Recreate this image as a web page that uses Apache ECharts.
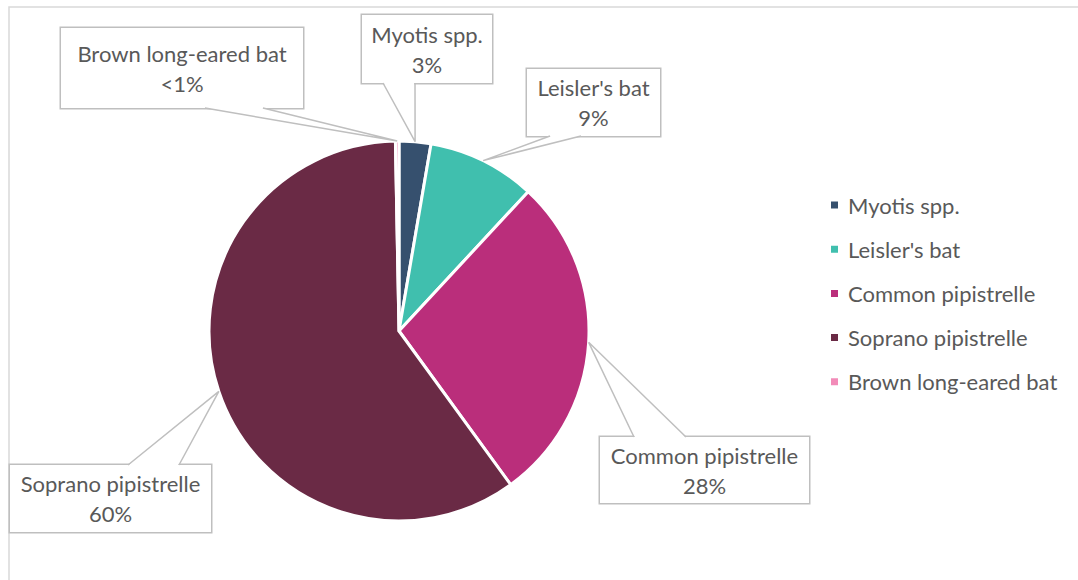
<!DOCTYPE html>
<html>
<head>
<meta charset="utf-8">
<script src="https://cdn.jsdelivr.net/npm/echarts@6/dist/echarts.min.js"></script>
<style>
  html, body { margin: 0; padding: 0; background: #fff; }
  #chart { width: 1078px; height: 580px; }
</style>
</head>
<body>
<div id="chart"></div>
<script>
// Bat species recorded, share of passes (%)
const categories = ['Myotis spp.', "Leisler's bat", 'Common pipistrelle', 'Soprano pipistrelle', 'Brown long-eared bat'];
const shares = [2.7, 9.2, 28.1, 59.7, 0.3];
const colors = ['#36506e', '#40bfae', '#ba2e7b', '#6a2a45', '#f28bb8'];

// Callout boxes: centre, size, which edge carries the pointer and where the pointer base sits
const callouts = [
  { cx: 427,   cy: 49,    w: 130, h: 68, edge: 'bottom', base: [383, 415] },
  { cx: 593.5, cy: 102.5, w: 133, h: 67, edge: 'bottom', base: [550, 581] },
  { cx: 704.5, cy: 470,   w: 209, h: 66, edge: 'top',    base: [634, 686] },
  { cx: 110.5, cy: 498.5, w: 201, h: 67, edge: 'top',    base: [128, 179] },
  { cx: 182,   cy: 68,    w: 242, h: 80, edge: 'bottom', base: [205, 263] }
];

const FONT = 'Lato';
const FONT_SIZE = 22;
const TEXT = '#595959';
const LINE = '#bfbfbf';
const LINE_H = 30;

const total = shares.reduce((a, b) => a + b, 0);
function pctText(v) {
  const p = v / total * 100;
  return p < 1 ? '<1%' : Math.round(p) + '%';
}

const chart = echarts.init(document.getElementById('chart'), null, { renderer: 'svg' });

const seriesData = categories.map((name, i) => ({
  name,
  value: shares[i],
  itemStyle: { color: colors[i] },
  label: {
    width: callouts[i].w,
    padding: [(callouts[i].h - 2 * LINE_H) / 2, 0]
  }
}));

const frame = {
  type: 'rect',
  silent: true,
  shape: { x: 9, y: 7, width: 1200, height: 700 },
  style: { fill: 'none', stroke: '#d9d9d9', lineWidth: 1.5 },
  z: -1
};

chart.setOption({
  animation: false,
  backgroundColor: '#fff',
  legend: {
    orient: 'vertical',
    left: 824,
    top: 188,
    icon: 'rect',
    itemWidth: 9,
    itemHeight: 9,
    itemGap: 20.2,
    data: categories,
    textStyle: { fontFamily: FONT, fontSize: FONT_SIZE, color: TEXT, lineHeight: 24, padding: [0, 0, 0, 4] }
  },
  series: [{
    type: 'pie',
    center: [399, 331],
    radius: 190,
    startAngle: 90,
    clockwise: true,
    avoidLabelOverlap: false,
    minShowLabelAngle: 0,
    itemStyle: { borderColor: '#fff', borderWidth: 3 },
    emphasis: { disabled: true },
    label: {
      show: true,
      formatter: p => p.name + '\n' + pctText(p.value),
      fontFamily: FONT,
      fontSize: FONT_SIZE,
      lineHeight: LINE_H,
      color: TEXT,
      align: 'center',
      backgroundColor: '#fff',
      borderColor: LINE,
      borderWidth: 1.5
    },
    labelLine: { show: false },
    labelLayout: p => ({
      x: callouts[p.dataIndex].cx,
      y: callouts[p.dataIndex].cy,
      align: 'center',
      verticalAlign: 'middle'
    }),
    data: seriesData
  }],
  graphic: [frame]
});

// Pointer wedges from each callout box to the middle of its slice's rim
function slicePoint(i) {
  const data = chart.getModel().getSeriesByIndex(0).getData();
  const l = data.getItemLayout(i);
  const mid = (l.startAngle + l.endAngle) / 2;
  return [l.cx + l.r * Math.cos(mid), l.cy + l.r * Math.sin(mid)];
}

const wedges = [];
callouts.forEach((c, i) => {
  const tip = slicePoint(i);
  const yb = c.edge === 'bottom' ? c.cy + c.h / 2 : c.cy - c.h / 2;
  const inward = c.edge === 'bottom' ? -1.5 : 1.5;
  const [x0, x1] = c.base;
  wedges.push({
    type: 'polygon',
    silent: true,
    z: 100,
    shape: { points: [[x0 + 0.8, yb + inward], [x0 + 0.8, yb], tip, [x1 - 0.8, yb], [x1 - 0.8, yb + inward]] },
    style: { fill: '#fff', stroke: null }
  });
  wedges.push({
    type: 'polyline',
    silent: true,
    z: 101,
    shape: { points: [[x0, yb], tip, [x1, yb]] },
    style: { fill: null, stroke: LINE, lineWidth: 1.5 }
  });
});

chart.setOption({ graphic: [frame].concat(wedges) });
</script>
</body>
</html>
